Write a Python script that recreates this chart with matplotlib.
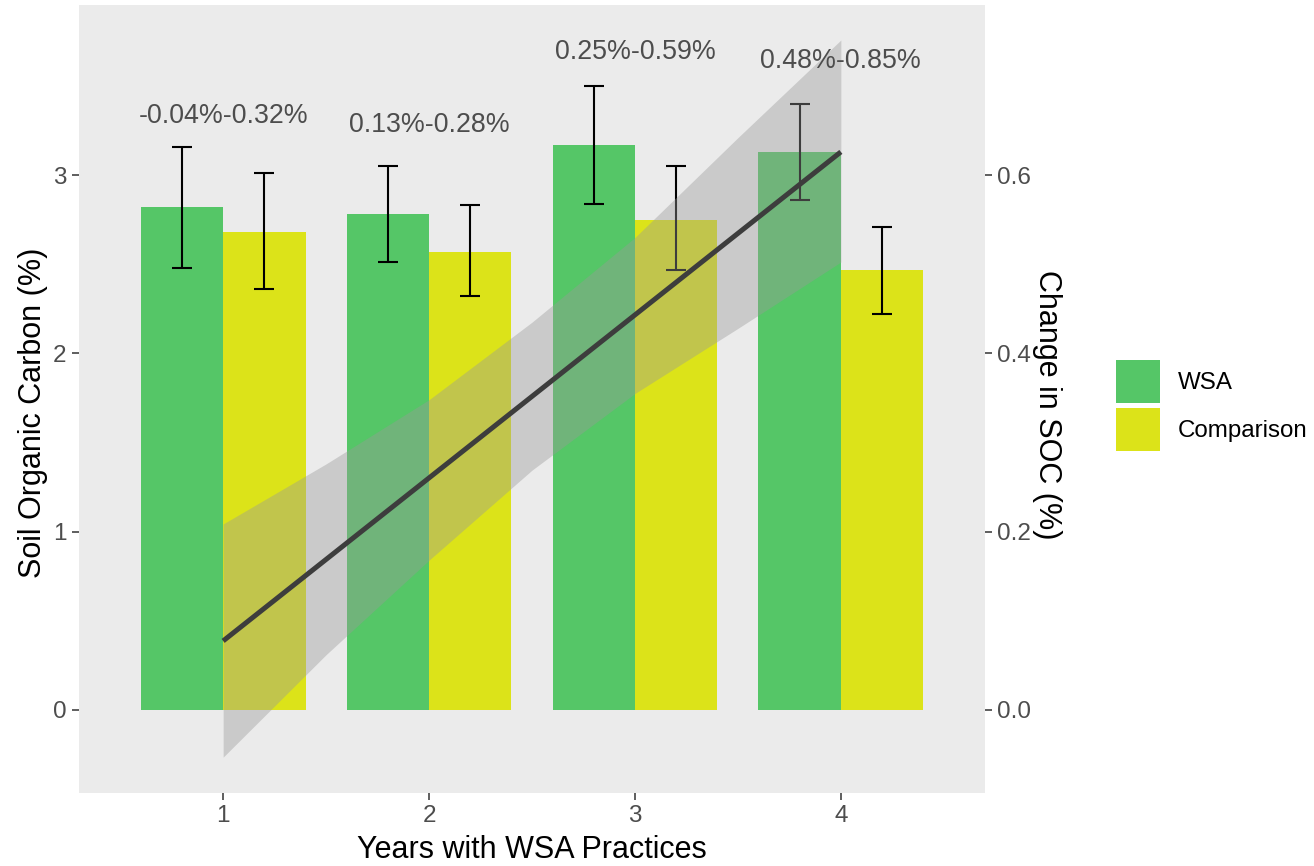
import matplotlib
matplotlib.use("Agg")
import matplotlib.pyplot as plt
from matplotlib.patches import Patch
import numpy as np

plt.rcParams['font.family'] = ['Liberation Sans', 'DejaVu Sans']

# ---- data ----
years = [1, 2, 3, 4]
year_labels = ["1", "2", "3", "4"]
groups = ["WSA", "Comparison"]
wsa_soc = [2.82, 2.78, 3.17, 3.13]
wsa_lo = [2.48, 2.51, 2.84, 2.86]
wsa_hi = [3.16, 3.05, 3.50, 3.40]
cmp_soc = [2.68, 2.57, 2.75, 2.47]
cmp_lo = [2.36, 2.32, 2.47, 2.22]
cmp_hi = [3.01, 2.83, 3.05, 2.71]

# change in SOC (secondary axis, %): fitted line and confidence band
fit_x = [1, 4]
fit_y = [0.0774, 0.626]
band_x = [1, 1.5, 2, 2.5, 3, 3.5, 4]
band_lo = [-0.053, 0.062, 0.168, 0.269, 0.355, 0.428, 0.5025]
band_hi = [0.2086, 0.276, 0.348, 0.435, 0.530, 0.642, 0.7515]

range_labels = ["-0.04%-0.32%", "0.13%-0.28%", "0.25%-0.59%", "0.48%-0.85%"]
range_label_y = [3.33, 3.28, 3.69, 3.64]

left_ticks = [0, 1, 2, 3]
right_ticks = [0.0, 0.2, 0.4, 0.6]
right_tick_labels = ["0.0", "0.2", "0.4", "0.6"]

# ---- style ----
c_wsa = "#55C667"
c_cmp = "#DCE319"
panel = "#EBEBEB"
tick_col = "#4D4D4D"
W, H = 1314, 866

fig = plt.figure(figsize=(W / 100, H / 100), dpi=100)
ax = fig.add_axes([79 / W, 1 - 793 / H, (985 - 79) / W, (793 - 5) / H])
ax.set_facecolor(panel)
ylim_l = (-0.466, 3.954)
ax.set_xlim(0.30, 4.70)
ax.set_ylim(*ylim_l)

x = np.array(years, dtype=float)
bw = 0.4
ax.bar(x - bw / 2, wsa_soc, width=bw, color=c_wsa, zorder=2)
ax.bar(x + bw / 2, cmp_soc, width=bw, color=c_cmp, zorder=2)

ekw = dict(fmt='none', ecolor='black', elinewidth=1.5, capsize=7.5, capthick=1.5, zorder=3)
ax.errorbar(x - bw / 2, wsa_soc,
            yerr=[np.array(wsa_soc) - np.array(wsa_lo), np.array(wsa_hi) - np.array(wsa_soc)], **ekw)
ax.errorbar(x + bw / 2, cmp_soc,
            yerr=[np.array(cmp_soc) - np.array(cmp_lo), np.array(cmp_hi) - np.array(cmp_soc)], **ekw)

for s in ax.spines.values():
    s.set_visible(False)
ax.set_xticks(years)
ax.set_xticklabels(year_labels)
ax.set_yticks(left_ticks)
ax.tick_params(axis='both', colors='#333333', labelcolor=tick_col, labelsize=17.5,
               length=5, width=1.1, pad=4)

# secondary axis
ax2 = ax.twinx()
ax2.set_ylim(ylim_l[0] / 5, ylim_l[1] / 5)
ax2.patch.set_visible(False)
for s in ax2.spines.values():
    s.set_visible(False)
ax2.fill_between(band_x, band_lo, band_hi, color="#999999", alpha=0.4, linewidth=0, zorder=1)
ax2.plot(fit_x, fit_y, color="#3d3d3d", linewidth=3.6, solid_capstyle='butt', zorder=2)
ax2.set_yticks(right_ticks)
ax2.set_yticklabels(right_tick_labels)
ax2.tick_params(axis='y', colors='#333333', labelcolor=tick_col, labelsize=17.5,
                length=5, width=1.1, pad=4)

for xi, lab, ly in zip(years, range_labels, range_label_y):
    ax2.text(xi, ly, lab, transform=ax.transData, ha='center', va='center',
             fontsize=19.3, color=tick_col, zorder=5)

fig.text(532 / W, 1 - 850 / H, "Years with WSA Practices", ha='center', va='center',
         fontsize=22, color='black')
fig.text(33 / W, 1 - 413 / H, "Soil Organic Carbon (%)", ha='center', va='center',
         rotation=90, fontsize=22, color='black')
fig.text(1047 / W, 1 - 405 / H, "Change in SOC (%)", ha='center', va='center',
         rotation=270, fontsize=22, color='black')

handles = [Patch(facecolor=c_wsa, edgecolor='none'), Patch(facecolor=c_cmp, edgecolor='none')]
fig.legend(handles, groups, loc='upper left', bbox_to_anchor=(1116 / W, 1 - 360 / H),
           frameon=False, fontsize=17.4, handlelength=1.82, handleheight=2.36,
           labelspacing=0.21, handletextpad=0.74, borderpad=0, borderaxespad=0)

fig.savefig("out.png", dpi=100)
